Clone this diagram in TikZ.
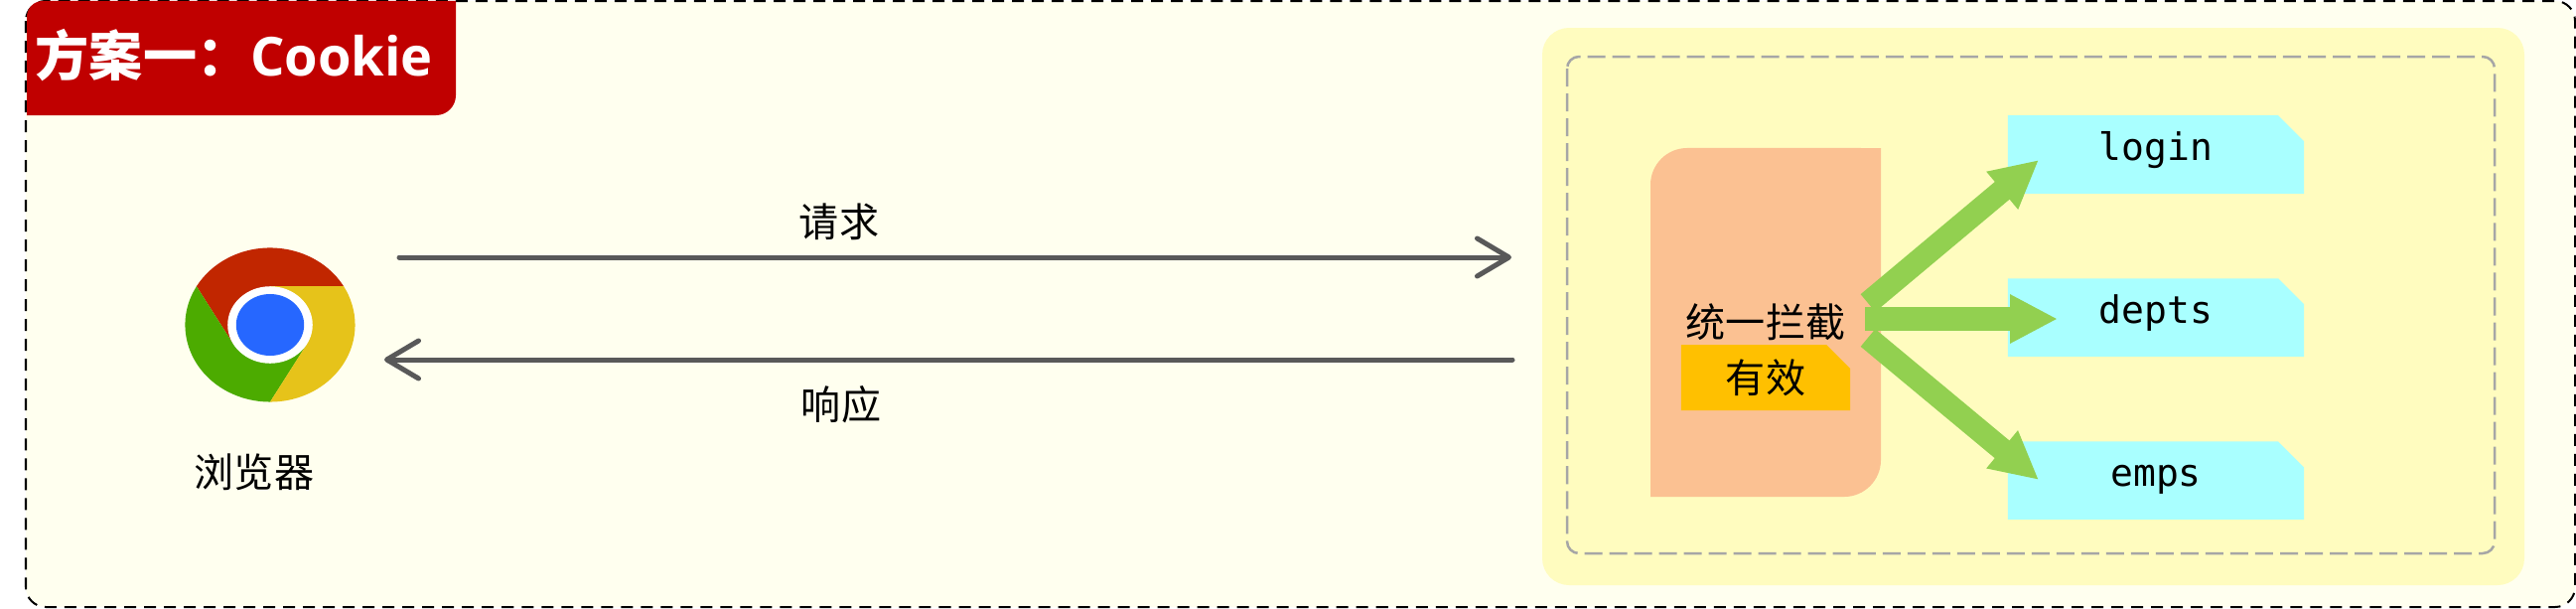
\documentclass[tikz,border=0pt]{standalone}
\usepackage{fontspec}
\setmainfont{Noto Sans CJK SC}
\newfontfamily\monofont{DejaVu Sans Mono}
\newfontfamily\latinfont{Open Sans}
\usetikzlibrary{shapes.misc,arrows.meta,positioning}
\definecolor{paper}{HTML}{FFFFEF}
\definecolor{sand}{HTML}{FFFCBF}
\definecolor{peach}{HTML}{FBC192}
\definecolor{amber}{HTML}{FFC000}
\definecolor{sky}{HTML}{A9FFFF}
\definecolor{leaf}{HTML}{92D050}
\definecolor{banner}{HTML}{C00000}
\definecolor{ink}{HTML}{595959}
\tikzset{
   label text/.style={font=\fontsize{11.4}{13}\selectfont,inner sep=0pt},
   page/.style={shape=chamfered rectangle,chamfered rectangle corners=north east,
      chamfered rectangle sep=.13cm,fill=sky,draw=none,inner sep=0pt,
      minimum width=2.98cm,minimum height=.785cm,
      font=\fontsize{10.8}{13}\monofont,text height=.29cm,text depth=.17cm},
   flow/.style={draw=ink,line width=.05cm,line cap=round,
      -{Straight Barb[length=.32cm,width=.38cm,round]}},
   route/.style={draw=leaf,line width=.23cm,-{Triangle[length=.48cm,width=.46cm]}}
}
\begin{document}
\begin{tikzpicture}[x=.01cm,y=-.01cm,node distance=1.64cm,on grid]
   \useasboundingbox (0,0) rectangle (2594,612);
   \draw[fill=paper,line width=.02cm,dash pattern=on .12cm off .08cm,rounded corners=.2cm]
      (26,1) rectangle (2593,611);
   \fill[banner] (27,116) -- (27,17) arc[start angle=180,end angle=90,radius=.16cm]
      -- (459,1) -- (459,96) arc[start angle=0,end angle=-90,radius=.2cm] -- cycle;
   \node[anchor=base west,inner sep=0pt,text=white,font=\fontsize{15.4}{18}\selectfont\bfseries] (title) at (35,76)
      {方案一：{\latinfont Cookie}};

   \fill[sand,rounded corners=.27cm] (1553,28) rectangle (2542,589);
   \draw[draw=black!35,line width=.025cm,dash pattern=on .18cm off .07cm,rounded corners=.12cm]
      (1578,57) rectangle (2512,557);

   \begin{scope}[shift={(272,327)},x=.855cm,y=.775cm]
      \fill[red!65!black!70!orange] (30:1) arc[start angle=30,end angle=150,radius=1] -- (210:.5) -- (90:.5) -- cycle;
      \fill[green!45!black!60!lime] (150:1) arc[start angle=150,end angle=270,radius=1] -- (330:.5) -- (210:.5) -- cycle;
      \fill[yellow!70!orange!90!black] (270:1) arc[start angle=270,end angle=390,radius=1] -- (90:.5) -- (330:.5) -- cycle;
      \fill[white] (0,0) circle[radius=.5];
      \fill[blue!70!cyan!85!white] (0,0) circle[radius=.4];
   \end{scope}
   \node[label text] (browser) at (256,475) {浏览器};

   \fill[peach] (1662,500) -- (1662,186) arc[start angle=180,end angle=90,radius=.37cm]
      -- (1894,149) -- (1894,463) arc[start angle=0,end angle=-90,radius=.37cm] -- cycle;
   \node[label text] (gate) at (1778,324) {统一拦截};
   \node[label text,shape=chamfered rectangle,chamfered rectangle corners=north east,
      chamfered rectangle sep=.12cm,fill=amber,minimum width=1.7cm,minimum height=.66cm]
      (valid) [below=.56cm of gate] {有效};

   \node[page] (login) at (2171,155.5) {login};
   \node[page] (depts) [below=of login] {depts};
   \node[page] (emps) [below=of depts] {emps};

   \coordinate (req-a) at (402,259);
   \coordinate (req-b) at (1522,259);
   \coordinate (res-a) at (1523,362);
   \coordinate (res-b) at (387,362);
   \path[flow] (req-a) -- (req-b);
   \path[flow] (res-a) -- (res-b);
   \node[label text] (req) at (845,223) {请求};
   \node[label text] (res) at (847,407) {响应};

   \coordinate (hub-up) at (1881,305);
   \coordinate (hub-mid) at (1878,321);
   \coordinate (hub-low) at (1881,340);
   \coordinate (tip-up) at (2053,161);
   \coordinate (tip-mid) at (2072,321);
   \coordinate (tip-low) at (2053,483);
   \path[route] (hub-up) -- (tip-up);
   \path[route] (hub-mid) -- (tip-mid);
   \path[route] (hub-low) -- (tip-low);
\end{tikzpicture}
\end{document}
